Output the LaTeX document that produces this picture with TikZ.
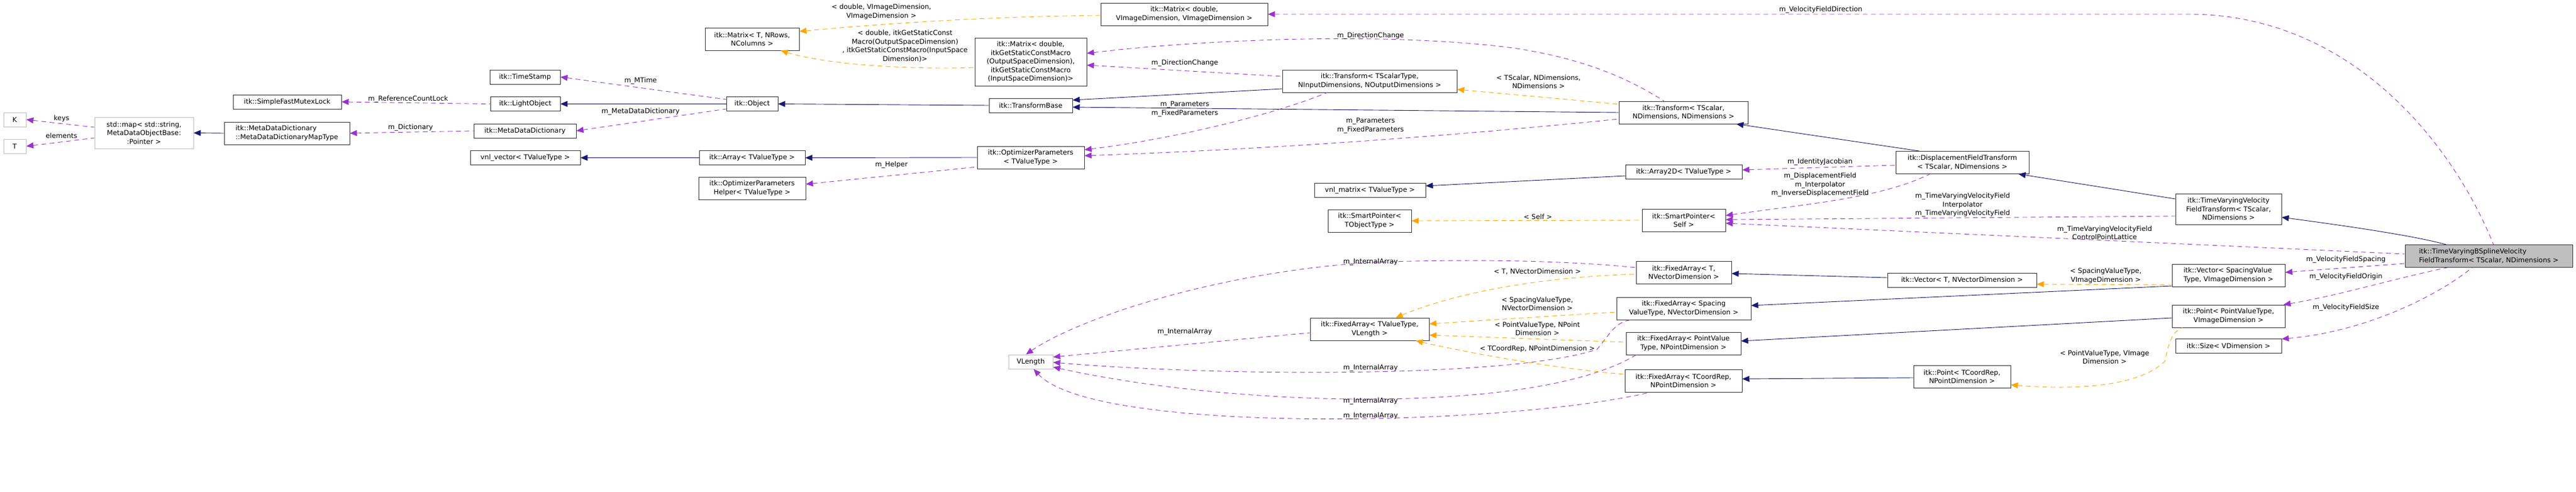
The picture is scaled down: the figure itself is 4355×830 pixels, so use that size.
\documentclass[tikz,border=0pt]{standalone}
\usepackage{fontspec}
\setmainfont{DejaVu Sans}
\usetikzlibrary{arrows.meta}
\definecolor{inhc}{HTML}{191970}
\definecolor{memc}{HTML}{9A32CD}
\definecolor{tplc}{HTML}{FFA500}
\definecolor{grayb}{HTML}{BFBFBF}
\begin{document}
\begin{tikzpicture}[x=1pt,y=-1pt,
  every node/.style={font=\fontsize{11.5}{14.5}\selectfont, inner sep=0pt},
  box/.style={draw=black!80, line width=0.9pt, fill=white, align=center},
  gbox/.style={draw=grayb, line width=0.9pt, fill=white, align=center},
  lbl/.style={align=center},
  tip/.style={{Triangle[length=12pt,width=10pt]}-},
  inh/.style={draw=inhc, line width=0.9pt, tip},
  mem/.style={draw=memc, line width=0.9pt, dash pattern=on 8pt off 6pt, tip},
  tpl/.style={draw=tplc, line width=0.9pt, dash pattern=on 8pt off 6pt, tip}]
\useasboundingbox (0,0) rectangle (4355,830);
% nodes
\node[gbox,minimum width=38pt,minimum height=24pt] (K) at (25,202) {K};
\node[gbox,minimum width=38pt,minimum height=24pt] (T) at (25,247) {T};
\node[gbox,minimum width=167pt,minimum height=53pt] (map) at (243.5,224.5) {std::map< std::string,\\ MetaDataObjectBase:\\:Pointer >};
\node[box,minimum width=183pt,minimum height=24pt] (sfml) at (485.5,172) {itk::SimpleFastMutexLock};
\node[box,minimum width=212pt,minimum height=38pt,align=left] (mddmt) at (485,225) {itk::MetaDataDictionary\\::MetaDataDictionaryMapType};
\node[box,minimum width=119pt,minimum height=24pt] (ts) at (887.5,130) {itk::TimeStamp};
\node[box,minimum width=118pt,minimum height=24pt] (lo) at (888,175.5) {itk::LightObject};
\node[box,minimum width=173pt,minimum height=24pt] (mdd) at (887.5,221) {itk::MetaDataDictionary};
\node[box,minimum width=186pt,minimum height=24pt] (vnlv) at (888,266.5) {vnl\_vector< TValueType >};
\node[box,minimum width=87pt,minimum height=24pt] (obj) at (1271.5,175.5) {itk::Object};
\node[box,minimum width=159pt,minimum height=38pt] (matT) at (1271.5,66) {itk::Matrix< T, NRows,\\ NColumns >};
\node[box,minimum width=179pt,minimum height=24pt] (arr) at (1271.5,266.5) {itk::Array< TValueType >};
\node[box,minimum width=181pt,minimum height=38pt] (oph) at (1271.5,318) {itk::OptimizerParameters\\Helper< TValueType >};
\node[box,minimum width=282pt,minimum height=38pt] (matV) at (2002,24) {itk::Matrix< double,\\ VImageDimension, VImageDimension >};
\node[box,minimum width=189pt,minimum height=81pt] (matI) at (1742.5,104.5) {itk::Matrix< double,\\ itkGetStaticConstMacro\\(OutputSpaceDimension),\\ itkGetStaticConstMacro\\(InputSpaceDimension)>};
\node[box,minimum width=141pt,minimum height=24pt] (tb) at (1742.5,178) {itk::TransformBase};
\node[box,minimum width=181pt,minimum height=38pt] (op) at (1742.5,266) {itk::OptimizerParameters\\< TValueType >};
\node[gbox,minimum width=75pt,minimum height=24pt] (vl) at (1742.5,611) {VLength};
\node[box,minimum width=295pt,minimum height=38pt] (trA) at (2315.5,137) {itk::Transform< TScalarType,\\ NInputDimensions, NOutputDimensions >};
\node[box,minimum width=188pt,minimum height=24pt] (vnlm) at (2316,321) {vnl\_matrix< TValueType >};
\node[box,minimum width=141pt,minimum height=38pt] (spt) at (2315.5,373) {itk::SmartPointer<\\ TObjectType >};
\node[box,minimum width=201pt,minimum height=38pt] (fatv) at (2315.5,556) {itk::FixedArray< TValueType,\\ VLength >};
\node[box,minimum width=218pt,minimum height=38pt] (trB) at (2846,190) {itk::Transform< TScalar,\\ NDimensions, NDimensions >};
\node[box,minimum width=197pt,minimum height=24pt] (a2d) at (2846.5,290) {itk::Array2D< TValueType >};
\node[box,minimum width=141pt,minimum height=38pt] (sps) at (2846.5,372) {itk::SmartPointer<\\ Self >};
\node[box,minimum width=161pt,minimum height=38pt] (fatn) at (2846.5,460) {itk::FixedArray< T,\\ NVectorDimension >};
\node[box,minimum width=227pt,minimum height=38pt] (fas) at (2846.5,521) {itk::FixedArray< Spacing\\ValueType, NVectorDimension >};
\node[box,minimum width=194pt,minimum height=38pt] (fap) at (2846,580) {itk::FixedArray< PointValue\\Type, NPointDimension >};
\node[box,minimum width=198pt,minimum height=38pt] (fac) at (2846,643) {itk::FixedArray< TCoordRep,\\ NPointDimension >};
\node[box,minimum width=225pt,minimum height=38pt] (dft) at (3317.5,274.5) {itk::DisplacementFieldTransform\\< TScalar, NDimensions >};
\node[box,minimum width=252pt,minimum height=24pt] (vecT) at (3317,473) {itk::Vector< T, NVectorDimension >};
\node[box,minimum width=164pt,minimum height=38pt] (ptC) at (3317,636) {itk::Point< TCoordRep,\\ NPointDimension >};
\node[box,minimum width=179pt,minimum height=52pt] (tvv) at (3767.5,353) {itk::TimeVaryingVelocity\\FieldTransform< TScalar,\\ NDimensions >};
\node[box,minimum width=191pt,minimum height=38pt,align=left] (vecS) at (3767.5,465) {itk::Vector< SpacingValue\\Type, VImageDimension >};
\node[box,minimum width=191pt,minimum height=38pt] (ptP) at (3767.5,534) {itk::Point< PointValueType,\\ VImageDimension >};
\node[box,minimum width=179pt,minimum height=24pt] (sz) at (3767.5,584.5) {itk::Size< VDimension >};
\node[box,fill=grayb,minimum width=283pt,minimum height=38pt,align=left] (bs) at (4207.5,432.5) {itk::TimeVaryingBSplineVelocity\\FieldTransform< TScalar, NDimensions >};
% edges
\draw[mem] (K.east) -- ([yshift=9.5pt]map.west);
\draw[mem] (T.east) -- ([yshift=-8.5pt]map.west);
\draw[inh] (map.east) -- (mddmt.west);
\draw[mem] (sfml.east) -- (lo.west);
\draw[mem] (mddmt.east) -- (mdd.west);
\draw[mem] (ts.east) -- ([yshift=7.5pt]obj.west);
\draw[inh] (lo.east) -- (obj.west);
\draw[mem] (mdd.east) -- ([yshift=-8.5pt]obj.west);
\draw[inh] (vnlv.east) -- (arr.west);
\draw[inh] (arr.east) -- (op.west);
\draw[mem] ([yshift=7pt]oph.east) -- ([yshift=-16pt]op.west);
\draw[inh] (obj.east) -- (tb.west);
\draw[tpl] ([yshift=13pt]matT.east) .. controls (1550,35) and (1700,28) .. ([yshift=-2pt]matV.west);
\draw[tpl] ([xshift=48.5pt]matT.south) .. controls (1400,110) and (1550,118) .. ([yshift=-9.5pt]matI.west);
\draw[mem] ([yshift=-5.5pt]matI.east) -- ([yshift=8pt]trA.west);
\draw[mem] ([yshift=14.5pt]matI.east) .. controls (2050,65) and (2350,55) .. (2550,80) .. controls (2700,100) and (2780,150) .. ([xshift=-33pt]trB.north);
\draw[inh] ([yshift=9pt]tb.east) -- ([yshift=-13pt]trA.west);
\draw[inh] ([yshift=-3pt]tb.east) -- (trB.west);
\draw[mem] ([yshift=13pt]op.east) .. controls (1980,235) and (2150,195) .. ([xshift=-72pt]trA.south);
\draw[mem] ([yshift=3pt]op.east) .. controls (2200,250) and (2500,225) .. ([yshift=-11pt]trB.west);
\draw[tpl] ([yshift=-14pt]trA.east) -- ([yshift=14pt]trB.west);
\draw[mem] (matV.east) -- (3700,24) .. controls (3980,24) and (4150,250) .. ([xshift=8pt]bs.north);
\draw[inh] ([xshift=-20pt]trB.south east) -- ([xshift=40pt]dft.north west);
\draw[mem] ([yshift=3pt]a2d.east) -- ([yshift=-4.5pt]dft.west);
\draw[inh] ([yshift=7pt]vnlm.east) -- ([yshift=-7pt]a2d.west);
\draw[tpl] (spt.east) -- (sps.west);
\draw[mem] ([yshift=8pt]sps.east) .. controls (3050,345) and (3180,335) .. ([xshift=-55pt]dft.south);
\draw[mem] ([yshift=1pt]sps.east) -- ([yshift=-12pt]tvv.west);
\draw[mem] ([yshift=-5pt]sps.east) -- ([yshift=3.5pt]bs.west);
\draw[inh] ([xshift=-18pt]dft.south east) -- ([yshift=17pt]tvv.west);
\draw[inh] ([yshift=-14pt]tvv.east) .. controls (3970,382) and (4080,398) .. ([xshift=-72pt]bs.north);
\draw[mem] ([xshift=-8pt]vl.north) .. controls (1820,540) and (2050,460) .. (2320,443) .. controls (2550,435) and (2700,445) .. ([yshift=8pt]fatn.west);
\draw[mem] ([yshift=8pt]vl.east) -- ([yshift=-6pt]fatv.west);
\draw[mem] ([yshift=-1pt]vl.east) .. controls (2050,635) and (2550,640) .. (2700,590) .. controls (2725,560) and (2730,545) .. ([xshift=-90pt]fas.south);
\draw[mem] ([yshift=-9pt]vl.east) .. controls (2100,690) and (2600,700) .. ([xshift=-80pt]fap.south);
\draw[mem] ([xshift=5pt]vl.south) .. controls (1850,735) and (2550,720) .. ([xshift=-56pt]fac.south);
\draw[tpl] ([xshift=44pt]fatv.north) .. controls (2460,495) and (2600,468) .. ([yshift=-3pt]fatn.west);
\draw[tpl] ([yshift=9pt]fatv.east) -- ([yshift=-6pt]fas.west);
\draw[tpl] ([yshift=-10pt]fatv.east) -- ([yshift=2pt]fap.west);
\draw[tpl] ([xshift=-23pt]fatv.south east) .. controls (2500,600) and (2650,625) .. ([yshift=11pt]fac.west);
\draw[inh] ([yshift=-2pt]fatn.east) -- ([yshift=4pt]vecT.west);
\draw[tpl] ([yshift=-7pt]vecT.east) -- ([yshift=-16pt]vecS.west);
\draw[inh] ([yshift=5pt]fas.east) -- ([yshift=-18pt]vecS.west);
\draw[inh] ([yshift=4pt]fap.east) -- ([yshift=-3pt]ptP.west);
\draw[inh] ([yshift=3pt]fac.east) -- ([yshift=-2pt]ptC.west);
\draw[tpl] ([yshift=-14pt]ptC.east) .. controls (3520,660) and (3620,650) .. (3660,610) .. controls (3668,570) and (3675,560) .. ([xshift=18pt]ptP.south west);
\draw[mem] ([yshift=5pt]vecS.east) -- ([yshift=-12.5pt]bs.west);
\draw[mem] ([xshift=-3pt]ptP.north east) .. controls (3950,500) and (4050,470) .. ([xshift=-70pt]bs.south);
\draw[mem] ([yshift=12pt]sz.east) .. controls (4000,560) and (4120,500) .. ([xshift=-28pt]bs.south);
% labels
\node[lbl] (l1) at (104,200) {keys};
\node[lbl] (l2) at (104,229) {elements};
\node[lbl] (l3) at (690,167) {m\_ReferenceCountLock};
\node[lbl] (l4) at (694,215) {m\_Dictionary};
\node[lbl] (l5) at (1083,136) {m\_MTime};
\node[lbl] (l6) at (1083,188) {m\_MetaDataDictionary};
\node[lbl] (l7) at (1507,278) {m\_Helper};
\node[lbl] (l8) at (1490,20) {< double, VImageDimension,\\VImageDimension >};
\node[lbl] (l9) at (1530,78) {< double, itkGetStaticConst\\Macro(OutputSpaceDimension)\\, itkGetStaticConstMacro(InputSpace\\Dimension)>};
\node[lbl] (l10) at (2003,106) {m\_DirectionChange};
\node[lbl] (l11) at (2317,60) {m\_DirectionChange};
\node[lbl] (l12) at (2003,184) {m\_Parameters\\m\_FixedParameters};
\node[lbl] (l13) at (2317,212) {m\_Parameters\\m\_FixedParameters};
\node[lbl] (l14) at (2601,138) {< TScalar, NDimensions,\\NDimensions >};
\node[lbl] (l15) at (3078,16) {m\_VelocityFieldDirection};
\node[lbl] (l16) at (3077,273) {m\_IdentityJacobian};
\node[lbl] (l17) at (3077,312) {m\_DisplacementField\\m\_Interpolator\\m\_InverseDisplacementField};
\node[lbl] (l18) at (2600,366) {< Self >};
\node[lbl] (l19) at (3318,346) {m\_TimeVaryingVelocityField\\Interpolator\\m\_TimeVaryingVelocityField};
\node[lbl] (l20) at (3558,393) {m\_TimeVaryingVelocityField\\ControlPointLattice};
\node[lbl] (l21) at (3560,466) {< SpacingValueType,\\VImageDimension >};
\node[lbl] (l22) at (3558,603) {< PointValueType, VImage\\Dimension >};
\node[lbl] (l23) at (3966,438) {m\_VelocityFieldSpacing};
\node[lbl] (l24) at (3966,467) {m\_VelocityFieldOrigin};
\node[lbl] (l25) at (3966,519) {m\_VelocityFieldSize};
\node[lbl] (l26) at (2317,442) {m\_InternalArray};
\node[lbl] (l27) at (2003,560) {m\_InternalArray};
\node[lbl] (l28) at (2317,621) {m\_InternalArray};
\node[lbl] (l29) at (2317,677) {m\_InternalArray};
\node[lbl] (l30) at (2317,702) {m\_InternalArray};
\node[lbl] (l31) at (2599,459) {< T, NVectorDimension >};
\node[lbl] (l32) at (2599,513) {< SpacingValueType,\\NVectorDimension >};
\node[lbl] (l33) at (2599,555) {< PointValueType, NPoint\\Dimension >};
\node[lbl] (l34) at (2599,589) {< TCoordRep, NPointDimension >};
\end{tikzpicture}
\end{document}
